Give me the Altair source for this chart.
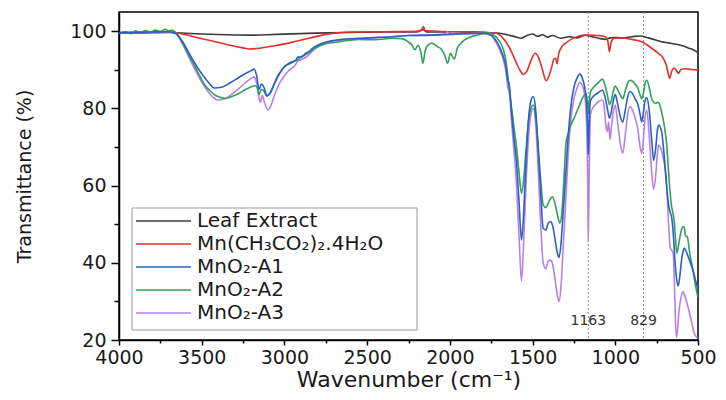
import altair as alt
import pandas as pd

# ---------------- data ----------------
series_names = ["Leaf Extract", "Mn(CH₃CO₂)₂.4H₂O", "MnO₂-A1", "MnO₂-A2", "MnO₂-A3"]
series_colors = ["#3c3c3c", "#e0302c", "#2b5fc6", "#31a058", "#b782e4"]

leaf_wn = [4000, 3850, 3700, 3650, 3500, 3350, 3200, 3050, 2900, 2750, 2600, 2400, 2200, 2160, 2140, 2000,
           1800, 1700, 1640, 1600, 1570, 1540, 1500, 1470, 1440, 1410, 1380, 1330, 1280, 1230, 1180, 1140,
           1100, 1060, 1030, 1000, 960, 900, 850, 800, 760, 720, 680, 640, 600, 560, 530, 500]
leaf_t = [99.5, 99.6, 99.7, 99.6, 99.3, 99.1, 99.0, 99.2, 99.4, 99.6, 99.7, 99.8, 99.8, 100.4, 99.8, 99.8,
          99.7, 99.5, 99.0, 98.5, 98.2, 98.8, 99.3, 98.7, 99.1, 98.5, 98.9, 98.2, 98.6, 98.3, 99.0, 98.6,
          98.2, 97.9, 98.3, 98.4, 98.3, 98.6, 98.8, 98.3, 97.8, 97.3, 97.0, 96.7, 96.3, 95.7, 95.2, 94.5]

mn_wn = [4000, 3850, 3700, 3650, 3550, 3450, 3350, 3250, 3213, 3150, 3050, 2950, 2850, 2750, 2600, 2400,
         2200, 2170, 2160, 2150, 2000, 1850, 1720, 1680, 1640, 1600, 1575, 1555, 1535, 1510, 1484, 1465,
         1440, 1418, 1400, 1385, 1370, 1360, 1352, 1342, 1320, 1298, 1250, 1180, 1100, 1060, 1045, 1036,
         1025, 1006, 960, 900, 840, 780, 740, 710, 690, 680, 672, 660, 645, 630, 618, 605, 580, 540, 500]
mn_t = [99.7, 99.8, 99.8, 99.6, 98.6, 97.6, 96.6, 95.7, 95.4, 95.6, 96.3, 97.2, 98.2, 99.2, 99.8, 99.9,
        100.0, 100.4, 101.2, 100.2, 99.9, 99.9, 99.5, 98.3, 95.8, 92.0, 89.8, 88.8, 89.6, 92.4, 94.3, 93.3,
        90.0, 87.2, 88.5, 90.6, 92.9, 93.0, 91.6, 94.2, 96.2, 97.0, 98.3, 99.0, 98.9, 98.6, 97.5, 94.7,
        97.2, 98.2, 98.3, 97.9, 97.3, 95.6, 94.3, 93.0, 91.0, 89.0, 87.8, 89.5, 90.5, 89.8, 89.1, 90.0,
        90.3, 90.1, 90.0]

a1_wn = [4000, 3900, 3800, 3700, 3654, 3620, 3580, 3540, 3500, 3460, 3422, 3380, 3330, 3280, 3230, 3200,
         3183, 3168, 3153, 3140, 3125, 3106, 3085, 3060, 3030, 3000, 2968, 2930, 2920, 2900, 2870, 2850,
         2830, 2800, 2750, 2650, 2500, 2350, 2250, 2100, 2000, 1900, 1800, 1750, 1734, 1710, 1692, 1675,
         1662, 1650, 1640, 1627, 1612, 1597, 1582, 1567, 1555, 1540, 1525, 1510, 1496, 1482, 1468, 1452,
         1436, 1420, 1405, 1392, 1378, 1362, 1350, 1340, 1328, 1315, 1298, 1285, 1270, 1250, 1230, 1215,
         1200, 1185, 1175, 1167, 1163, 1158, 1150, 1135, 1120, 1100, 1078, 1062, 1048, 1035, 1025, 1012,
         1000, 985, 970, 955, 940, 925, 911, 895, 880, 865, 850, 840, 830, 820, 810, 795, 780, 768, 755,
         745, 738, 720, 705, 690, 678, 668, 660, 650, 640, 630, 620, 610, 600, 590, 583, 570, 550, 530,
         515, 500]
a1_t = [99.6, 99.7, 99.8, 99.9, 99.4, 97.6, 94.6, 91.6, 89.0, 86.8, 85.3, 85.5, 86.6, 87.9, 89.2, 89.8,
        90.2, 88.5, 84.9, 86.3, 85.6, 83.3, 84.0, 86.5, 89.0, 90.8, 91.8, 92.6, 93.3, 93.4, 94.3, 94.8,
        95.6, 96.4, 97.2, 97.9, 98.3, 98.6, 98.9, 99.0, 99.2, 99.4, 99.5, 99.0, 98.3, 96.8, 95.2, 93.2,
        90.9, 87.5, 85.8, 79.0, 72.0, 66.0, 56.0, 45.9, 52.0, 66.0, 77.0, 82.0, 83.1, 80.0, 71.0, 59.0,
        49.0, 48.5, 50.3, 50.7, 49.5, 45.5, 42.5, 41.4, 45.0, 53.0, 64.0, 72.5, 80.0, 85.5, 88.0, 88.9,
        88.0, 85.5, 82.0, 75.0, 68.0, 76.0, 82.0, 83.0, 83.6, 84.2, 84.8, 83.0, 80.0, 77.5, 79.0, 82.0,
        83.6, 81.0, 78.0, 76.5, 79.5, 83.0, 84.4, 83.8, 82.5, 81.3, 78.5, 76.5, 79.0, 82.0, 82.8, 79.5,
        72.0, 66.5, 70.0, 74.5, 75.7, 74.0, 68.0, 60.0, 55.0, 53.0, 52.0, 48.0, 41.0, 36.0, 34.0, 36.5,
        40.5, 43.0, 43.8, 42.8, 40.5, 38.0, 35.5, 33.0]

a2_wn = [4000, 3960, 3930, 3900, 3870, 3840, 3810, 3780, 3750, 3720, 3700, 3680, 3654, 3620, 3580, 3540,
         3500, 3481, 3450, 3420, 3390, 3360, 3330, 3300, 3270, 3240, 3207, 3180, 3165, 3153, 3140, 3125,
         3106, 3088, 3060, 3046, 3020, 3004, 2968, 2927, 2900, 2867, 2840, 2807, 2750, 2700, 2620, 2550,
         2450, 2350, 2290, 2253, 2230, 2211, 2193, 2175, 2163, 2150, 2140, 2110, 2074, 2050, 2032, 2014,
         1996, 1985, 1973, 1955, 1935, 1913, 1870, 1835, 1800, 1760, 1734, 1710, 1692, 1675, 1662, 1650,
         1633, 1615, 1597, 1582, 1567, 1555, 1540, 1525, 1510, 1496, 1482, 1468, 1452, 1436, 1420, 1400,
         1380, 1365, 1350, 1335, 1322, 1310, 1298, 1285, 1270, 1245, 1215, 1190, 1175, 1167, 1163, 1158,
         1150, 1135, 1120, 1100, 1078, 1062, 1048, 1035, 1025, 1012, 1000, 985, 970, 955, 940, 925, 911,
         895, 880, 865, 850, 840, 830, 820, 810, 795, 780, 768, 755, 745, 738, 725, 712, 700, 690, 680,
         670, 661, 650, 643, 635, 628, 620, 610, 600, 590, 583, 575, 565, 550, 530, 515, 500]
a2_t = [99.5, 99.9, 99.4, 100.1, 99.7, 100.2, 99.8, 100.3, 100.0, 100.5, 100.1, 100.3, 99.5, 97.3, 94.0, 90.8,
        87.5, 86.1, 84.6, 83.5, 82.9, 82.6, 82.9, 83.4, 84.0, 84.8, 85.5, 85.9, 85.5, 83.6, 84.9, 84.6,
        83.2, 84.0, 86.5, 88.0, 89.8, 90.7, 91.6, 92.5, 93.2, 94.1, 94.9, 95.8, 96.8, 97.1, 97.6, 97.9,
        97.8, 98.2, 98.1, 97.3, 96.5, 95.2, 96.4, 94.5, 91.7, 94.8, 96.0, 96.9, 96.0, 95.3, 93.9, 91.7,
        94.3, 93.5, 92.8, 95.6, 96.8, 97.7, 98.6, 99.0, 99.4, 99.6, 99.0, 98.0, 96.9, 95.0, 92.6, 88.5,
        82.2, 76.0, 70.0, 63.5, 58.0, 61.0, 69.0, 76.5, 80.0, 80.9, 78.0, 71.0, 62.0, 55.0, 54.3, 56.0,
        57.1, 55.5, 52.5, 50.3, 53.5, 62.0, 71.0, 73.5, 75.5, 77.9, 81.0, 83.3, 83.8, 81.0, 78.5, 81.5,
        84.2, 85.3, 86.0, 86.8, 87.6, 86.0, 83.5, 81.0, 82.0, 84.5, 85.8, 84.8, 83.5, 82.5, 84.5, 86.6, 87.3,
        87.0, 86.3, 85.4, 83.5, 82.5, 84.0, 86.5, 87.3, 85.5, 82.5, 81.6, 81.3, 81.6, 81.5, 80.0, 77.5, 74.5,
        71.0, 65.0, 59.0, 55.0, 52.5, 50.5, 45.5, 42.5, 44.0, 46.5, 48.5, 49.4, 49.2, 47.0, 46.8, 42.5, 38.0,
        34.0, 31.0]

a3_wn = [4000, 3900, 3800, 3700, 3654, 3620, 3580, 3540, 3500, 3460, 3430, 3404, 3370, 3330, 3280, 3230,
         3200, 3183, 3168, 3153, 3145, 3135, 3120, 3100, 3085, 3060, 3030, 3000, 2968, 2930, 2920, 2900,
         2870, 2850, 2830, 2800, 2750, 2650, 2500, 2350, 2250, 2100, 2030, 2014, 2000, 1990, 1900, 1800,
         1750, 1734, 1710, 1692, 1675, 1662, 1650, 1640, 1627, 1612, 1597, 1582, 1567, 1555, 1540, 1525,
         1510, 1496, 1482, 1468, 1452, 1436, 1420, 1405, 1392, 1378, 1362, 1350, 1340, 1328, 1315, 1298,
         1285, 1270, 1250, 1230, 1215, 1200, 1185, 1175, 1167, 1163, 1158, 1150, 1135, 1120, 1100, 1078,
         1068, 1058, 1048, 1040, 1032, 1025, 1012, 1000, 985, 970, 955, 940, 925, 911, 895, 880, 865, 850,
         840, 830, 820, 810, 795, 780, 768, 755, 745, 738, 720, 705, 690, 678, 668, 660, 650, 643, 637,
         631, 625, 615, 600, 590, 580, 560, 540, 523, 510, 500]
a3_t = [99.6, 99.7, 99.8, 99.9, 99.3, 97.0, 93.5, 90.0, 86.8, 84.3, 82.9, 82.2, 82.4, 83.3, 85.0, 86.9,
        87.8, 88.2, 86.5, 82.5, 81.6, 83.4, 81.5, 79.6, 80.4, 83.5, 86.5, 88.5, 90.0, 91.5, 92.3, 92.6,
        93.3, 94.0, 94.9, 96.0, 97.0, 97.8, 98.2, 98.6, 98.9, 99.1, 99.3, 99.8, 99.3, 99.6, 99.4, 99.5,
        99.0, 98.0, 96.3, 94.5, 92.3, 89.8, 85.5, 84.0, 76.5, 69.0, 60.0, 47.0, 35.3, 44.0, 60.0, 72.0,
        78.5, 80.0, 76.5, 66.0, 51.0, 40.0, 38.5, 40.5, 40.7, 39.5, 35.0, 31.5, 30.0, 34.0, 44.0, 57.0,
        68.0, 76.5, 82.5, 85.5, 86.8, 86.0, 83.5, 78.0, 62.0, 45.5, 62.0, 78.5, 80.2, 81.0, 81.8, 82.2,
        80.8, 76.0, 74.0, 76.5, 72.0, 74.5, 79.0, 80.9, 76.0, 71.0, 68.4, 73.0, 78.5, 80.5, 79.5, 77.5,
        75.0, 70.0, 68.4, 72.0, 77.5, 79.6, 73.0, 63.5, 59.0, 63.0, 68.5, 70.5, 69.0, 66.0, 61.0, 50.0,
        44.0, 43.3, 42.5, 35.0, 26.0, 20.8, 22.0, 27.5, 31.5, 32.5, 31.5, 28.5, 25.0, 21.8, 20.8, 20.5]

peak_wn = [1163, 829]
peak_labels = ["1163", "829"]

x_ticks = list(range(500, 4001, 250))
y_ticks = list(range(20, 101, 10))

# ---------------- build tables ----------------
frames = []
for name, wn, t in zip(series_names, [leaf_wn, mn_wn, a1_wn, a2_wn, a3_wn],
                       [leaf_t, mn_t, a1_t, a2_t, a3_t]):
    assert len(wn) == len(t), name
    frames.append(pd.DataFrame({"series": name, "wn": wn, "t": t}))
df = pd.concat(frames, ignore_index=True)
peaks_df = pd.DataFrame({"wn": peak_wn, "label": peak_labels})

FONT = "DejaVu Sans"
color_scale = alt.Scale(domain=series_names, range=series_colors)

x_enc = alt.X(
    "wn:Q",
    scale=alt.Scale(domain=[500, 4000], reverse=True, nice=False, zero=False),
    axis=alt.Axis(
        values=x_ticks, format="d",
        labelExpr="datum.value % 500 === 0 ? datum.label : ''",
        tickSize={"condition": {"test": "datum.value % 500 === 0", "value": 5}, "value": 3},
        labelFlush=False, labelOverlap=False, labelPadding=3,
        title="Wavenumber (cm⁻¹)", titleFontSize=22, titlePadding=2,
    ),
)
y_enc = alt.Y(
    "t:Q",
    scale=alt.Scale(domain=[20, 105], nice=False, zero=False),
    axis=alt.Axis(
        values=y_ticks, format="d",
        labelExpr="datum.value % 20 === 0 ? datum.label : ''",
        tickSize={"condition": {"test": "datum.value % 20 === 0", "value": 8}, "value": 5},
        labelOverlap=False, labelPadding=5,
        title="Transmittance (%)", titleFontSize=19, titlePadding=35,
    ),
)

draw_order = [series_names[0], series_names[1], series_names[4], series_names[3], series_names[2]]
layers = []
for s in draw_order:
    layers.append(
        alt.Chart(df)
        .transform_filter(alt.datum.series == s)
        .mark_line(strokeWidth=1.6, interpolate="monotone", clip=True)
        .encode(
            x=x_enc, y=y_enc,
            color=alt.Color("series:N", scale=color_scale, legend=None),
            order=alt.Order("wn:Q", sort="descending"),
        )
    )

rules = alt.Chart(peaks_df).mark_rule(strokeDash=[2, 2], color="#8a8a8a", strokeWidth=1).encode(x=x_enc)
peak_text = alt.Chart(peaks_df).mark_text(font=FONT, fontSize=14, color="#333333").encode(
    x=x_enc, y=alt.value(309), text="label:N"
)

# ---------------- legend (drawn inside the plot, bottom-left) ----------------
legend_box = alt.Chart(pd.DataFrame({"k": [0]})).mark_rect(
    fill="white", stroke="#9a9a9a", strokeWidth=1
).encode(x=alt.value(13), x2=alt.value(298), y=alt.value(196), y2=alt.value(318))
legend_layers = [legend_box]
for i, name in enumerate(series_names):
    row_df = pd.DataFrame({"series": [name]})
    yy = 209 + 23 * i
    legend_layers.append(
        alt.Chart(row_df).mark_rule(strokeWidth=1.5).encode(
            x=alt.value(17), x2=alt.value(72), y=alt.value(yy),
            color=alt.Color("series:N", scale=color_scale, legend=None),
        )
    )
    legend_layers.append(
        alt.Chart(row_df).mark_text(align="left", baseline="middle", font=FONT, fontSize=20,
                                    color="#1a1a1a").encode(
            x=alt.value(78), y=alt.value(yy), text="series:N"
        )
    )

chart = alt.layer(rules, *layers, peak_text, *legend_layers).properties(
    width=579, height=328,
    autosize=alt.AutoSizeParams(type="none"),
    padding={"left": 111, "top": 4, "right": 20, "bottom": 52},
).configure_view(
    stroke="black", strokeWidth=1.5
).configure_axis(
    domainColor="black", domainWidth=1.5, tickColor="black", tickWidth=1.5,
    labelColor="#1a1a1a", labelFont=FONT, labelFontSize=19,
    titleFont=FONT, titleFontWeight="normal", titleColor="#1a1a1a", grid=False,
)

chart.save("out.html", embed_options={"renderer": "svg", "actions": False})
